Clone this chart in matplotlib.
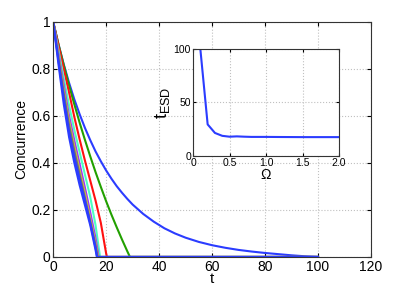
import matplotlib
matplotlib.use('Agg')
import matplotlib.pyplot as plt

plt.rcParams['font.family'] = ['Liberation Sans', 'DejaVu Sans']
plt.rcParams['mathtext.default'] = 'regular'

# concurrence curves, one per Omega value (t, C pairs)
t_slow = [0, 2, 4, 6, 8, 10, 12, 14, 16, 18, 20, 22, 24, 26, 28, 30, 34, 38, 42, 46,
          50, 55, 60, 65, 70, 75, 80, 85, 90, 95, 100]
c_slow = [1.0, 0.905, 0.819, 0.741, 0.670, 0.607, 0.549, 0.497, 0.449, 0.407, 0.368,
          0.333, 0.301, 0.273, 0.247, 0.223, 0.183, 0.150, 0.122, 0.100, 0.082, 0.064,
          0.050, 0.039, 0.030, 0.023, 0.017, 0.012, 0.007, 0.003, 0.0]

t_green = [0, 2, 4, 6, 8, 10, 12, 14, 16, 18, 20, 22, 24, 26, 28, 29, 100]
c_green = [1.0, 0.905, 0.816, 0.730, 0.649, 0.571, 0.498, 0.428, 0.361, 0.298, 0.237,
           0.180, 0.126, 0.074, 0.024, 0.0, 0.0]

t_red = [0, 2, 4, 6, 8, 10, 12, 14, 16, 18, 20, 20.3, 100]
c_red = [1.0, 0.90, 0.80, 0.70, 0.595, 0.50, 0.41, 0.325, 0.24, 0.145, 0.015, 0.0, 0.0]

t_aqua = [0, 2, 4, 6, 8, 10, 12, 14, 16, 17.7, 100]
c_aqua = [1.0, 0.88, 0.76, 0.645, 0.54, 0.445, 0.35, 0.255, 0.135, 0.0, 0.0]

t_purple = [0, 2, 4, 6, 8, 10, 12, 14, 16, 17.2, 100]
c_purple = [1.0, 0.865, 0.73, 0.60, 0.495, 0.395, 0.295, 0.19, 0.08, 0.0, 0.0]

t_yellow = [0, 2, 4, 6, 8, 10, 12, 14, 16, 17.0, 100]
c_yellow = [1.0, 0.855, 0.71, 0.58, 0.47, 0.37, 0.27, 0.165, 0.06, 0.0, 0.0]

t_grey = [0, 2, 4, 6, 8, 10, 12, 14, 16, 16.8, 100]
c_grey = [1.0, 0.845, 0.695, 0.56, 0.45, 0.35, 0.25, 0.15, 0.05, 0.0, 0.0]

t_blue2 = [0, 2, 4, 6, 8, 10, 12, 14, 16, 16.6, 100]
c_blue2 = [1.0, 0.835, 0.675, 0.535, 0.425, 0.33, 0.24, 0.145, 0.04, 0.0, 0.0]

t_blue1 = [0, 2, 4, 6, 8, 10, 12, 14, 16, 16.5, 100]
c_blue1 = [1.0, 0.82, 0.65, 0.51, 0.40, 0.305, 0.22, 0.135, 0.03, 0.0, 0.0]

curves = [
    (t_slow, c_slow, '#2b3cff'),
    (t_green, c_green, '#22a000'),
    (t_red, c_red, '#ff1010'),
    (t_aqua, c_aqua, '#4dffc0'),
    (t_purple, c_purple, '#9b30ff'),
    (t_yellow, c_yellow, '#c8c040'),
    (t_grey, c_grey, '#707070'),
    (t_blue2, c_blue2, '#2b3cff'),
    (t_blue1, c_blue1, '#2b3cff'),
]

# inset: ESD time vs Omega
omega = [0.1, 0.2, 0.3, 0.4, 0.5, 0.6, 0.7, 0.8, 1.0, 1.2, 1.5, 2.0]
t_esd = [100, 29.5, 21.5, 18.8, 18.0, 18.3, 18.0, 17.8, 17.8, 17.7, 17.6, 17.6]

fig = plt.figure(figsize=(4.09, 2.92), dpi=100)
ax = fig.add_axes([0.130, 0.120, 0.777, 0.805])
for tt, cc, col in curves:
    ax.plot(tt, cc, color=col, lw=1.5)

ax.set_xlim(0, 120)
ax.set_ylim(0, 1)
ax.set_xticks([0, 20, 40, 60, 80, 100, 120])
ax.set_yticks([0, 0.2, 0.4, 0.6, 0.8, 1])
ax.set_yticklabels(['0', '0.2', '0.4', '0.6', '0.8', '1'])
ax.tick_params(direction='in', labelsize=10, pad=2, length=3, top=True, right=True)
ax.grid(True, linestyle=':', color='#c0c0c0', lw=0.8)
for s in ax.spines.values():
    s.set_color('#333333')
ax.set_xlabel('t', fontsize=11, labelpad=-1)
ax.set_ylabel('Concurrence', fontsize=10, labelpad=2)

ins = fig.add_axes([0.472, 0.466, 0.357, 0.366])
ins.plot(omega, t_esd, color='#2b3cff', lw=1.5)
ins.set_xlim(0, 2)
ins.set_ylim(0, 100)
ins.set_xticks([0, 0.5, 1.0, 1.5, 2.0])
ins.set_xticklabels(['0', '0.5', '1.0', '1.5', '2.0'])
ins.set_yticks([0, 50, 100])
ins.tick_params(direction='in', labelsize=7.5, pad=1.5, length=2.5, top=True, right=True)
ins.grid(True, linestyle=':', color='#c0c0c0', lw=0.8)
for s in ins.spines.values():
    s.set_color('#333333')
ins.set_xlabel(r'$\Omega$', fontsize=10, labelpad=0)
ins.set_ylabel(r'$t_{ESD}$', fontsize=13, labelpad=1)

fig.savefig('out.png', dpi=100)
